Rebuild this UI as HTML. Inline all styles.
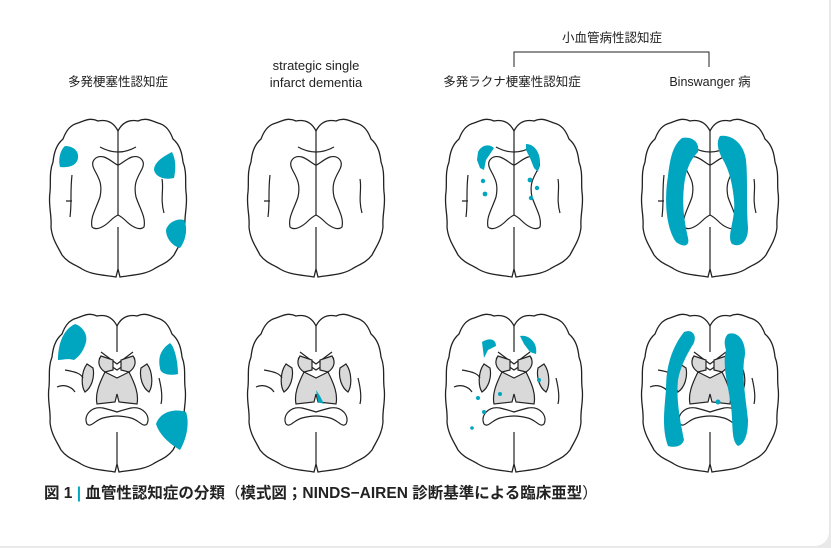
<!DOCTYPE html>
<html><head><meta charset="utf-8"><style>
html,body{margin:0;padding:0;background:#e9e9e9;}
.card{position:absolute;left:0;top:0;width:829px;height:546px;background:#fff;border-radius:0 0 14px 0;}
svg{position:absolute;left:0;top:0;}
text{font-family:"Liberation Sans","Noto Sans CJK JP",sans-serif;fill:#222;}
</style></head><body>
<div class="card"></div>
<svg width="831" height="548" viewBox="0 0 831 548">
<defs>
<g id="outline" fill="#fff" stroke="#222" stroke-width="1.3">
<path d="M70,14 C66,6 60,2 50,4 C42,0 36,4 30,6 C22,8 18,14 15,22 C8,28 6,36 5,45 C1,55 3,65 2,75 C0,88 4,98 3,110 C4,122 10,130 14,138 C20,146 28,148 34,152 C44,158 56,158 68,160 L70,152 L72,160 C84,158 96,158 106,152 C112,148 120,146 126,138 C130,130 136,122 137,110 C136,98 140,88 138,75 C137,65 139,55 135,45 C134,36 132,28 125,22 C122,14 118,8 110,6 C104,4 98,0 90,4 C80,2 74,6 70,14 Z"/>
</g>
<g id="btop">
<use href="#outline"/>
<g fill="none" stroke="#222" stroke-width="1.2">
<path d="M56,40 C48,38 42,44 46,52 C50,60 55,66 52,80 C48,92 42,100 44,110 C48,114 56,110 62,104 C66,100 70,98 70,98 C70,98 74,100 78,104 C84,110 92,114 96,110 C98,100 92,92 88,80 C85,66 90,60 94,52 C98,44 92,38 84,40 C78,42 72,48 70,48 C68,48 62,42 56,40 Z"/>
<path d="M52,30 Q70,40 88,30"/>
<path d="M70,14 V98 M70,110 V152"/>
<path d="M24,58 C22,75 24,85 22,100 M18,84 H24"/>
<path d="M114,62 C116,72 112,82 116,96"/>
</g></g>
<g id="bbot">
<use href="#outline"/>
<g stroke="#222" stroke-width="1.2">
<path d="M70,14 V40 M70,120 V152" fill="none"/>
<path d="M54,40 L70,52 L86,40 M52,46 L70,58 L88,46" fill="none"/>
<path d="M54,44 C50,50 52,56 58,60 L66,58 L66,48 Z M86,44 C90,50 88,56 82,60 L74,58 L74,48 Z" fill="#d9d9d9"/>
<path d="M40,52 C34,60 34,74 38,80 C44,76 48,66 46,56 Z M100,52 C106,60 106,74 102,80 C96,76 92,66 94,56 Z" fill="#d9d9d9"/>
<path d="M58,60 L70,66 L82,60 C88,72 92,82 90,92 L72,90 L70,82 L68,90 L50,92 C48,82 52,72 58,60 Z" fill="#d9d9d9"/>
<path d="M40,112 C36,104 44,94 56,96 C64,98 70,100 70,100 C70,100 76,98 84,96 C96,94 104,104 100,112 C96,116 92,108 84,106 C76,104 70,104 70,104 C70,104 64,104 56,106 C48,108 44,116 40,112 Z" fill="#fff"/>
<path d="M18,58 C30,60 34,62 36,66 M10,75 C16,72 24,74 28,80 M112,66 C114,74 116,84 114,92" fill="none"/>
</g></g>
</defs>

<text x="118" y="86" font-size="12.5" text-anchor="middle">多発梗塞性認知症</text>
<text x="316" y="70" font-size="13" text-anchor="middle">strategic single</text>
<text x="316" y="87" font-size="13" text-anchor="middle">infarct dementia</text>
<text x="512" y="86" font-size="12.5" text-anchor="middle">多発ラクナ梗塞性認知症</text>
<text x="710" y="86" font-size="12.5" text-anchor="middle">Binswanger 病</text>
<text x="612" y="42" font-size="12.5" text-anchor="middle">小血管病性認知症</text>
<path d="M514,67 V52 H709 V67" fill="none" stroke="#222" stroke-width="1"/>

<use href="#btop" transform="translate(48,117)"/>
<use href="#btop" transform="translate(246,117)"/>
<use href="#btop" transform="translate(444,117)"/>
<use href="#btop" transform="translate(640,117)"/>
<use href="#bbot" transform="translate(47,312)"/>
<use href="#bbot" transform="translate(246,312)"/>
<use href="#bbot" transform="translate(444,312)"/>
<use href="#bbot" transform="translate(640,312)"/>

<g fill="#00a6bf">
<path d="M65,146 C72,146 79,150 78,158 C77,165 70,168 60,167 C58,160 60,150 65,146 Z"/>
<path d="M172,152 C176,160 176,168 174,178 C166,180 156,178 154,170 C154,162 164,156 172,152 Z"/>
<path d="M184,220 C188,228 186,240 180,248 C172,246 166,238 166,230 C168,222 178,218 184,220 Z"/>
<path d="M75,324 C82,326 88,334 86,342 C84,350 80,356 74,360 C68,358 62,360 58,360 C58,346 62,330 75,324 Z"/>
<path d="M170,343 C174,346 178,360 178,374 C170,376 160,374 160,368 C158,358 160,350 170,343 Z"/>
<path d="M186,412 C190,424 186,440 180,450 C170,444 160,436 156,424 C160,412 174,408 186,412 Z"/>
<path d="M316,390 L320,396 L324,404 L318,402 Z"/>
<path d="M478,152 C482,144 490,144 494,148 L490,154 L486,160 L484,170 L480,168 L477,160 Z"/>
<path d="M526,144 C534,144 540,152 540,162 L538,172 L534,168 L530,158 L526,150 Z"/>
<circle cx="483" cy="181" r="2.2"/><circle cx="485" cy="194" r="2.4"/>
<circle cx="530" cy="180" r="2.4"/><circle cx="537" cy="188" r="2.2"/><circle cx="531" cy="198" r="2.2"/>
<path d="M482,342 C488,338 496,338 496,346 L488,350 L484,358 Z"/>
<path d="M520,336 C528,334 538,342 536,354 L530,352 L524,344 Z"/>
<circle cx="478" cy="398" r="2"/><circle cx="484" cy="412" r="2"/><circle cx="472" cy="428" r="1.8"/><circle cx="539" cy="380" r="2"/><circle cx="500" cy="394" r="2"/>
<path d="M682,138 C692,136 700,142 698,152 C690,160 686,170 684,186 C682,205 684,220 688,238 C690,246 684,248 676,242 C666,228 664,200 668,176 C670,160 672,146 682,138 Z"/>
<path d="M720,136 C732,134 744,144 746,160 C748,180 746,205 748,228 C748,242 740,248 732,244 C726,236 736,220 734,200 C732,180 728,168 722,158 C718,150 716,142 720,136 Z"/>
<path d="M684,332 C694,328 698,338 692,346 C686,356 680,368 678,380 C676,400 680,420 684,440 C682,446 676,448 668,446 C662,430 664,412 666,390 C666,370 670,350 684,332 Z"/>
<path d="M728,334 C740,330 748,346 744,360 C742,380 746,400 748,420 C748,436 744,444 738,446 C730,440 734,420 730,400 C728,385 722,365 726,350 C724,344 724,338 728,334 Z"/>
<circle cx="718" cy="402" r="2.5"/>
</g>

<text x="44" y="498" font-size="15.5" font-weight="bold">図 1 <tspan fill="#00a6bf">|</tspan> 血管性認知症の分類<tspan font-weight="normal">（</tspan>模式図；NINDS−AIREN 診断基準による臨床亜型<tspan font-weight="normal">）</tspan></text>
</svg>
</body></html>
